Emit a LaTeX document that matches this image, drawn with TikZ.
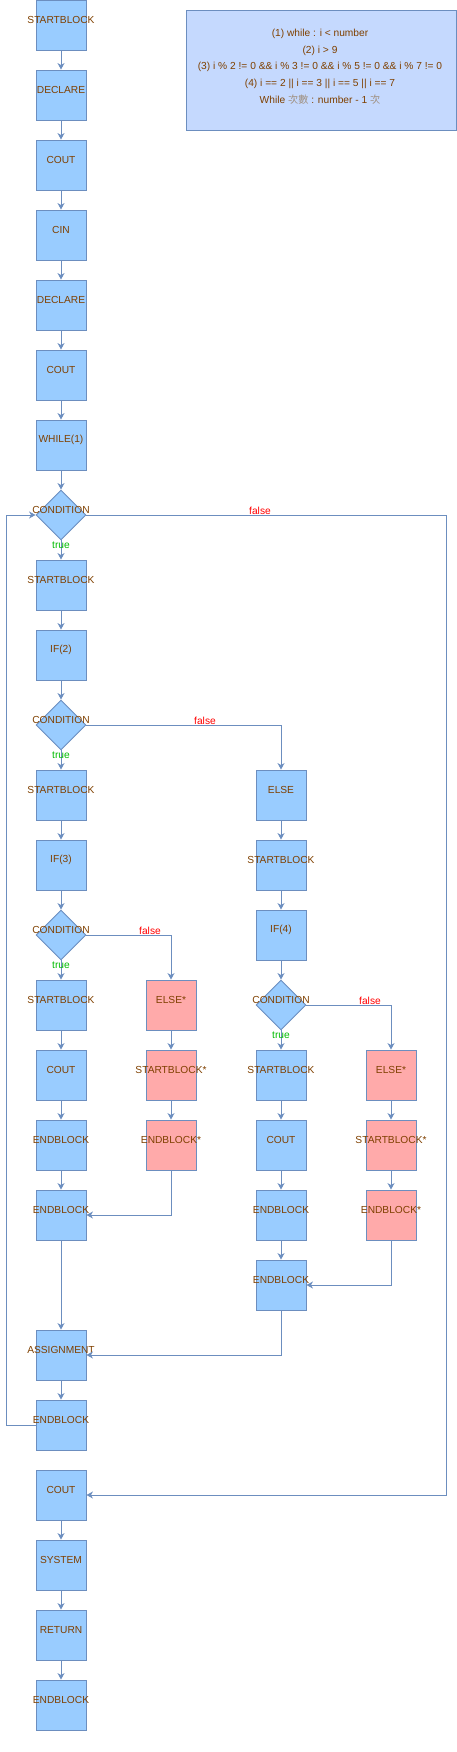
\documentclass[tikz,border=0pt]{standalone}
\usepackage{fontspec}
\setmainfont{Liberation Sans}
\newfontfamily\cjk{Noto Sans CJK TC}
\usetikzlibrary{arrows.meta,shapes.geometric}
\definecolor{lineC}{HTML}{6C8EBF}
\definecolor{boxC}{HTML}{99CCFF}
\definecolor{pinkC}{HTML}{FFAAAA}
\definecolor{noteC}{HTML}{C5D9FE}
\definecolor{txtC}{HTML}{7F4000}
\definecolor{cjkC}{HTML}{A09080}
\definecolor{falseC}{HTML}{FF0000}
\definecolor{trueC}{HTML}{00BB00}
\tikzset{
  box/.style={draw=lineC, fill=boxC, line width=0.9pt, minimum width=50pt, minimum height=50pt, inner sep=0pt},
  pbox/.style={box, fill=pinkC},
  cond/.style={draw=lineC, fill=boxC, line width=0.9pt, diamond, minimum width=50pt, minimum height=50pt, inner sep=0pt},
  txt/.style={text=txtC, font=\fontsize{10.2}{12}\selectfont, inner sep=0pt},
  lbl/.style={font=\fontsize{10.2}{12}\selectfont, inner sep=0pt},
  flow/.style={draw=lineC, line width=0.9pt, -{Stealth[length=6.5pt,width=7pt,inset=2pt]}},
  loopline/.style={draw=lineC, line width=0.9pt}
}
\newcommand\bx[4]{\node[#4] (#1) at (#2) {}; \node[txt] (#1t) at ([yshift=5pt]#1.center) {#3};}
\begin{document}
\begin{tikzpicture}[x=1pt,y=-1pt]
\useasboundingbox (0,0) rectangle (457,1752);
% note
\node[draw=lineC, fill=noteC, line width=0.9pt, minimum width=270pt, minimum height=120pt, inner sep=0pt] (note) at (321,70) {};
\node[txt, align=center, font=\fontsize{10.2}{16.7}\selectfont] (notetext) at (320,66.5) {(1) while : i < number\\(2) i > 9\\(3) i \% 2 != 0 \&\& i \% 3 != 0 \&\& i \% 5 != 0 \&\& i \% 7 != 0\\(4) i == 2 || i == 3 || i == 5 || i == 7\\While {\cjk\color{cjkC}次數} : number - 1 {\cjk\color{cjkC}次}};
% main column
\bx{b1}{61,25}{STARTBLOCK}{box}
\bx{b2}{61,95}{DECLARE}{box}
\bx{b3}{61,165}{COUT}{box}
\bx{b4}{61,235}{CIN}{box}
\bx{b5}{61,305}{DECLARE}{box}
\bx{b6}{61,375}{COUT}{box}
\bx{b7}{61,445}{WHILE(1)}{box}
\bx{c1}{61,515}{CONDITION}{cond}
\bx{b8}{61,585}{STARTBLOCK}{box}
\bx{b9}{61,655}{IF(2)}{box}
\bx{c2}{61,725}{CONDITION}{cond}
\bx{b10}{61,795}{STARTBLOCK}{box}
\bx{b11}{61,865}{IF(3)}{box}
\bx{c3}{61,935}{CONDITION}{cond}
\bx{b12}{61,1005}{STARTBLOCK}{box}
\bx{b13}{61,1075}{COUT}{box}
\bx{b14}{61,1145}{ENDBLOCK}{box}
\bx{b15}{61,1215}{ENDBLOCK}{box}
\bx{b16}{61,1355}{ASSIGNMENT}{box}
\bx{b17}{61,1425}{ENDBLOCK}{box}
\bx{b18}{61,1495}{COUT}{box}
\bx{b19}{61,1565}{SYSTEM}{box}
\bx{b20}{61,1635}{RETURN}{box}
\bx{b21}{61,1705}{ENDBLOCK}{box}
% middle column
\bx{e1}{171,1005}{ELSE*}{pbox}
\bx{e2}{171,1075}{STARTBLOCK*}{pbox}
\bx{e3}{171,1145}{ENDBLOCK*}{pbox}
% right column
\bx{r1}{281,795}{ELSE}{box}
\bx{r2}{281,865}{STARTBLOCK}{box}
\bx{r3}{281,935}{IF(4)}{box}
\bx{c4}{281,1005}{CONDITION}{cond}
\bx{r4}{281,1075}{STARTBLOCK}{box}
\bx{r5}{281,1145}{COUT}{box}
\bx{r6}{281,1215}{ENDBLOCK}{box}
\bx{r7}{281,1285}{ENDBLOCK}{box}
% far right column
\bx{f1}{391,1075}{ELSE*}{pbox}
\bx{f2}{391,1145}{STARTBLOCK*}{pbox}
\bx{f3}{391,1215}{ENDBLOCK*}{pbox}
% coordinates
\coordinate (lp1) at (6,1425);
\coordinate (lp2) at (6,515);
\coordinate (rp1) at (446,515);
\coordinate (rp2) at (446,1495);
% straight arrows
\foreach \a/\b in {b1/b2,b2/b3,b3/b4,b4/b5,b5/b6,b6/b7,b7/c1,c1/b8,b8/b9,b9/c2,c2/b10,b10/b11,b11/c3,c3/b12,b12/b13,b13/b14,b14/b15,b15/b16,b16/b17,b18/b19,b19/b20,b20/b21,e1/e2,e2/e3,r1/r2,r2/r3,r3/c4,c4/r4,r4/r5,r5/r6,r6/r7,f1/f2,f2/f3}
  \draw[flow] (\a) -- (\b);
% branches
\draw[flow] (c1.east) -- (rp1) -- (rp2) -- (b18.east);
\draw[flow] (b17.west) -- (lp1) -- (lp2) -- (c1.west);
\draw[flow] (c2.east) -| (r1.north);
\draw[flow] (c3.east) -| (e1.north);
\draw[flow] (c4.east) -| (f1.north);
\draw[flow] (e3.south) |- (b15.east);
\draw[flow] (f3.south) |- (r7.east);
\draw[flow] (r7.south) |- (b16.east);
% labels
\node[lbl, text=falseC] (fl1) at (260,510.5) {false};
\node[lbl, text=falseC] (fl2) at (205,720.5) {false};
\node[lbl, text=falseC] (fl3) at (150,930.5) {false};
\node[lbl, text=falseC] (fl4) at (370,1000.5) {false};
\node[lbl, text=trueC] (tl1) at (61,545.5) {true};
\node[lbl, text=trueC] (tl2) at (61,755.5) {true};
\node[lbl, text=trueC] (tl3) at (61,965.5) {true};
\node[lbl, text=trueC] (tl4) at (281,1035.5) {true};
\end{tikzpicture}
\end{document}
